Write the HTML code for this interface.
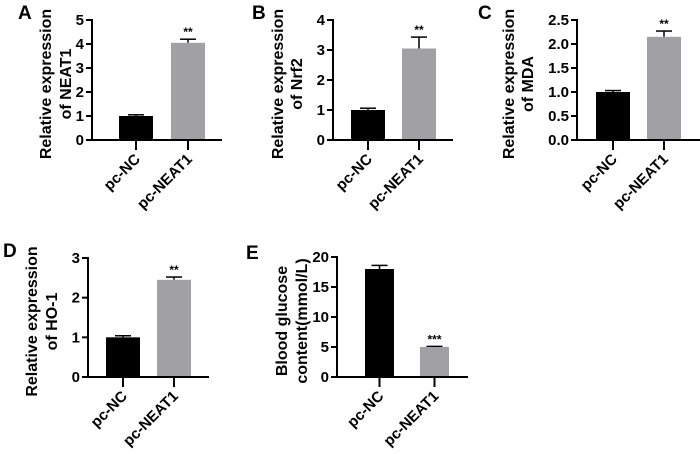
<!DOCTYPE html>
<html><head><meta charset="utf-8">
<style>
html,body{margin:0;padding:0;background:#fff;}
svg{display:block;font-family:"Liberation Sans",Arial,sans-serif;font-weight:bold;}
</style></head>
<body>
<svg id="fig" width="700" height="454" viewBox="0 0 700 454" xmlns="http://www.w3.org/2000/svg"></svg>
<script>
const categories = ["pc-NC", "pc-NEAT1"];
const panelLetters = ["A", "B", "C", "D", "E"];
const meansA = [1.0, 4.05]; const errA = [0.05, 0.15];
const meansB = [1.0, 3.05]; const errB = [0.06, 0.38];
const meansC = [1.0, 2.15]; const errC = [0.03, 0.12];
const meansD = [1.0, 2.45]; const errD = [0.04, 0.07];
const meansE = [18.0, 5.0]; const errE = [0.6, 0.1];
const ticksA = ["0","1","2","3","4","5"];
const ticksB = ["0","1","2","3","4"];
const ticksC = ["0.0","0.5","1.0","1.5","2.0","2.5"];
const ticksD = ["0","1","2","3"];
const ticksE = ["0","5","10","15","20"];
const sigLabels = ["**","**","**","**","***"];
const titles1 = ["Relative expression","Relative expression","Relative expression","Relative expression","Blood glucose"];
const titles2 = ["of NEAT1","of Nrf2","of MDA","of HO-1","content(mmol/L)"];

const NS = "http://www.w3.org/2000/svg";
const svg = document.getElementById("fig");
function mk(tag, attrs, parent, text){
  const e = document.createElementNS(NS, tag);
  for (const k in attrs) e.setAttribute(k, attrs[k]);
  if (text !== undefined) e.textContent = text;
  (parent || svg).appendChild(e);
  return e;
}
const layouts = [
  {ax:92, top:20, bot:140, end:222, bar0:119, gap:52, bw:34, lx:18, ly:19, t1:47, t2:67},
  {ax:333, top:20, bot:140, end:453, bar0:351, gap:51, bw:34, lx:252, ly:19, t1:279, t2:298},
  {ax:577, top:20, bot:140, end:700, bar0:596, gap:51, bw:34, lx:478, ly:19, t1:510, t2:529},
  {ax:88, top:258, bot:377, end:209, bar0:106, gap:51, bw:34, lx:3, ly:257, t1:33, t2:53},
  {ax:337, top:257, bot:377, end:468, bar0:365, gap:55, bw:29, lx:246, ly:259, t1:283, t2:303}
];
const allMeans = [meansA, meansB, meansC, meansD, meansE];
const allErr = [errA, errB, errC, errD, errE];
const allTicks = [ticksA, ticksB, ticksC, ticksD, ticksE];
const barColors = ["#000000", "#a1a1a5"];

layouts.forEach((L, p) => {
  const g = mk("g", {});
  
  
  const ticks = allTicks[p];
  const vmax = parseFloat(ticks[ticks.length - 1]);
  const y = v => L.bot - (v / vmax) * (L.bot - L.top);
  const letter = mk("text", {x:L.lx, y:L.ly, "font-size":19}, g, panelLetters[p]);
  
  
  const cy = (L.top + L.bot) / 2 + 4;
  const ta = mk("text", {x:L.t1, y:cy, "font-size":16, "text-anchor":"middle", transform:`rotate(-90 ${L.t1} ${cy})`, "dominant-baseline":"middle"}, g, titles1[p]);
  
  
  const tb = mk("text", {x:L.t2, y:cy, "font-size":16, "text-anchor":"middle", transform:`rotate(-90 ${L.t2} ${cy})`, "dominant-baseline":"middle"}, g, titles2[p]);
  
  
  allMeans[p].forEach((m, i) => {
    const x0 = L.bar0 + i * L.gap;
    const cx = x0 + L.bw / 2;
    const e = allErr[p][i];
    const el = mk("line", {x1:cx, x2:cx, y1:y(m), y2:y(m + e), stroke:"#000", "stroke-width":1.5}, g);
    
    
    const cap = mk("line", {x1:cx - 8, x2:cx + 8, y1:y(m + e), y2:y(m + e), stroke:"#000", "stroke-width":1.5}, g);
    
    
    const r = mk("rect", {x:x0, y:y(m), width:L.bw, height:L.bot - y(m), fill:barColors[i]}, g);
    
    
    const tk = mk("line", {x1:cx, x2:cx, y1:L.bot, y2:L.bot + 10, stroke:"#000", "stroke-width":2}, g);
    
    
    const lx = cx + 5, ly = L.bot + 20;
    const lab = mk("text", {x:lx, y:ly, "font-size":15, "text-anchor":"end", transform:`rotate(-45 ${lx} ${ly})`}, g, categories[i]);
    
    
    if (i === 1) {
      const s = mk("text", {x:cx, y:y(m + e) - 3, "font-size":12, "text-anchor":"middle"}, g, sigLabels[p]);
      
      
    }
  });
  const ya = mk("line", {x1:L.ax, x2:L.ax, y1:L.top - 1, y2:L.bot + 1, stroke:"#000", "stroke-width":2}, g);
  
  
  const xa = mk("line", {x1:L.ax - 1, x2:L.end, y1:L.bot, y2:L.bot, stroke:"#000", "stroke-width":2}, g);
  
  
  ticks.forEach(t => {
    const v = parseFloat(t);
    const tl = mk("line", {x1:L.ax - 6, x2:L.ax, y1:y(v), y2:y(v), stroke:"#000", "stroke-width":2}, g);
    
    
    const tt = mk("text", {x:L.ax - 8, y:y(v) + 5, "font-size":15, "text-anchor":"end"}, g, t);
    
    
  });
});
</script>
</body></html>
